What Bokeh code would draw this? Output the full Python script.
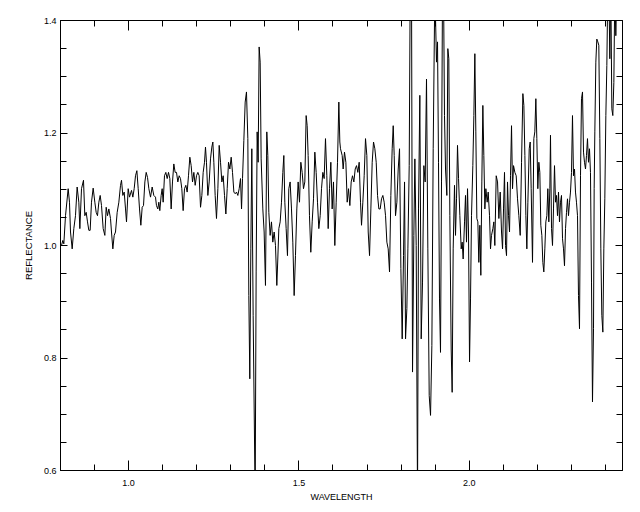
from bokeh.plotting import figure
from bokeh.models import Range1d, LinearAxis, FixedTicker, CustomJSTickFormatter
from bokeh.embed import file_html
from bokeh.resources import INLINE

# Spectrum (wavelength in microns, reflectance)
wl_1 = [0.8029, 0.8068, 0.8098, 0.8147, 0.8225, 0.8264, 0.8294, 0.8343, 0.8391, 0.8440,
        0.8489, 0.8538, 0.8568, 0.8617, 0.8675, 0.8714, 0.8754, 0.8793, 0.8832, 0.8871,
        0.8910, 0.8959, 0.9008, 0.9047, 0.9086, 0.9126, 0.9165, 0.9204, 0.9253, 0.9302,
        0.9341, 0.9380, 0.9419, 0.9468, 0.9497, 0.9537, 0.9576, 0.9615, 0.9664, 0.9713,
        0.9762, 0.9791, 0.9830, 0.9870, 0.9909, 0.9938, 0.9987, 1.0026, 1.0085, 1.0124,
        1.0163, 1.0202, 1.0242, 1.0281, 1.0320, 1.0359, 1.0398, 1.0437, 1.0477, 1.0516,
        1.0555, 1.0594, 1.0643]
refl_1 = [1.000, 1.009, 1.003, 1.053, 1.101, 1.077, 1.024, 0.994, 1.030, 1.053,
          1.104, 1.077, 1.030, 1.101, 1.116, 1.053, 1.059, 1.042, 1.027, 1.027,
          1.077, 1.102, 1.077, 1.059, 1.053, 1.077, 1.089, 1.071, 1.030, 1.018,
          1.068, 1.053, 1.065, 1.048, 1.024, 0.994, 1.018, 1.024, 1.059, 1.077,
          1.107, 1.116, 1.089, 1.095, 1.065, 1.042, 1.101, 1.086, 1.098, 1.086,
          1.101, 1.124, 1.133, 1.101, 1.065, 1.036, 1.068, 1.071, 1.113, 1.130,
          1.121, 1.101, 1.086]

wl_2 = [1.0691, 1.0740, 1.0789, 1.0818, 1.0857, 1.0887, 1.0916, 1.0955, 1.0985, 1.1014,
        1.1053, 1.1092, 1.1132, 1.1171, 1.1210, 1.1249, 1.1288, 1.1327, 1.1366, 1.1406,
        1.1445, 1.1484, 1.1523, 1.1562, 1.1601, 1.1641, 1.1680, 1.1719, 1.1758, 1.1797,
        1.1836, 1.1876, 1.1915, 1.1954, 1.1993, 1.2032, 1.2071, 1.2111, 1.2150, 1.2189,
        1.2228, 1.2257, 1.2286, 1.2326, 1.2365, 1.2404, 1.2443, 1.2473, 1.2502, 1.2541,
        1.2580, 1.2620, 1.2659, 1.2698, 1.2737, 1.2776, 1.2815, 1.2855, 1.2894, 1.2933,
        1.2972, 1.3011, 1.3050, 1.3090, 1.3129, 1.3168, 1.3207, 1.3246, 1.3285, 1.3315,
        1.3344, 1.3383, 1.3422]
refl_2 = [1.104, 1.089, 1.086, 1.071, 1.065, 1.077, 1.062, 1.089, 1.101, 1.077,
          1.124, 1.130, 1.119, 1.130, 1.119, 1.065, 1.113, 1.145, 1.130, 1.130,
          1.113, 1.124, 1.119, 1.101, 1.062, 1.101, 1.107, 1.095, 1.124, 1.157,
          1.142, 1.113, 1.130, 1.107, 1.124, 1.130, 1.124, 1.068, 1.089, 1.130,
          1.148, 1.175, 1.148, 1.089, 1.113, 1.154, 1.175, 1.184, 1.148, 1.089,
          1.048, 1.101, 1.178, 1.148, 1.113, 1.124, 1.089, 1.056, 1.101, 1.148,
          1.136, 1.157, 1.130, 1.095, 1.092, 1.095, 1.089, 1.101, 1.119, 1.065,
          1.119, 1.187, 1.255]

wl_3 = [1.3460, 1.3500, 1.3529, 1.3558, 1.3588, 1.3617, 1.3656, 1.3715, 1.3744, 1.3774,
        1.3803, 1.3832, 1.3862, 1.3891, 1.3940, 1.3979, 1.4018, 1.4057, 1.4087, 1.4116,
        1.4155, 1.4194, 1.4233, 1.4273, 1.4312, 1.4351, 1.4380, 1.4410, 1.4449, 1.4488,
        1.4527, 1.4557, 1.4586, 1.4625, 1.4664, 1.4703, 1.4742, 1.4782, 1.4821, 1.4860,
        1.4899, 1.4938, 1.4977, 1.5017, 1.5056, 1.5095, 1.5134, 1.5173, 1.5212, 1.5242,
        1.5271, 1.5310, 1.5349, 1.5389, 1.5428, 1.5467, 1.5506, 1.5545, 1.5584, 1.5624,
        1.5663, 1.5702, 1.5741, 1.5780, 1.5819, 1.5859, 1.5898, 1.5937, 1.5976, 1.6015,
        1.6054, 1.6094, 1.6133, 1.6172, 1.6201]
refl_3 = [1.273, 1.190, 0.911, 0.763, 0.994, 1.172, 0.876, 0.550, 0.953, 1.202,
          1.148, 1.353, 1.326, 1.154, 1.065, 1.024, 0.929, 1.202, 1.160, 1.059,
          1.018, 1.042, 1.006, 1.024, 1.000, 0.929, 0.976, 1.030, 1.042, 1.077,
          1.130, 1.160, 1.077, 1.030, 0.982, 1.101, 1.113, 1.065, 1.006, 0.911,
          0.982, 1.065, 1.113, 1.077, 1.148, 1.130, 1.101, 1.113, 1.231, 1.213,
          1.160, 1.053, 0.988, 1.042, 1.083, 1.166, 1.130, 1.077, 1.030, 1.053,
          1.101, 1.130, 1.119, 1.190, 1.124, 1.030, 1.101, 1.148, 1.065, 1.113,
          1.000, 1.077, 1.148, 1.255, 1.184]

wl_4 = [1.6221, 1.6270, 1.6299, 1.6338, 1.6378, 1.6417, 1.6456, 1.6495, 1.6534, 1.6573,
        1.6613, 1.6652, 1.6691, 1.6730, 1.6769, 1.6808, 1.6838, 1.6877, 1.6916, 1.6955,
        1.6994, 1.7034, 1.7073, 1.7112, 1.7151, 1.7190, 1.7229, 1.7269, 1.7308, 1.7347,
        1.7386, 1.7425, 1.7464, 1.7503, 1.7543, 1.7582, 1.7621, 1.7660, 1.7699, 1.7738,
        1.7768, 1.7797, 1.7836, 1.7876, 1.7915, 1.7954, 1.7993, 1.8032, 1.8071, 1.8101,
        1.8130, 1.8169, 1.8199, 1.8238, 1.8267, 1.8306, 1.8335, 1.8374, 1.8404, 1.8443,
        1.8482, 1.8511, 1.8550, 1.8590, 1.8629, 1.8668, 1.8707, 1.8746, 1.8785, 1.8825,
        1.8864, 1.8903, 1.8942, 1.8991]
refl_4 = [1.172, 1.160, 1.136, 1.166, 1.148, 1.077, 1.101, 1.071, 1.113, 1.124,
          1.113, 1.136, 1.142, 1.130, 1.148, 1.077, 1.036, 1.077, 1.124, 1.190,
          1.160, 1.024, 0.982, 1.065, 1.148, 1.184, 1.172, 1.148, 1.089, 1.065,
          1.065, 1.083, 1.089, 1.077, 1.053, 1.006, 0.994, 0.953, 1.089, 1.172,
          1.213, 1.160, 1.053, 1.077, 1.136, 1.172, 0.959, 0.834, 0.982, 1.113,
          0.834, 0.888, 0.994, 1.142, 1.460, 1.460, 0.775, 1.018, 1.154, 1.000,
          0.550, 1.065, 1.267, 0.834, 0.935, 1.142, 1.113, 1.296, 0.994, 0.733,
          0.698, 0.822, 1.172, 1.460]

wl_5 = [1.9039, 1.9069, 1.9098, 1.9127, 1.9157, 1.9186, 1.9216, 1.9245, 1.9274, 1.9304,
        1.9343, 1.9372, 1.9401, 1.9431, 1.9470, 1.9499, 1.9529, 1.9568, 1.9597, 1.9627,
        1.9656, 1.9686, 1.9725, 1.9764, 1.9793, 1.9822, 1.9862, 1.9891, 1.9920, 1.9950,
        1.9979, 2.0009, 2.0038, 2.0067, 2.0106, 2.0136, 2.0165, 2.0194, 2.0224, 2.0253,
        2.0282, 2.0312, 2.0341, 2.0370, 2.0400, 2.0429, 2.0459, 2.0488, 2.0527, 2.0557,
        2.0596, 2.0625, 2.0654, 2.0694, 2.0723, 2.0752, 2.0792, 2.0831, 2.0870, 2.0909,
        2.0948, 2.0978, 2.1007, 2.1036, 2.1066, 2.1095, 2.1124, 2.1154, 2.1183, 2.1212,
        2.1242, 2.1271, 2.1301, 2.1340, 2.1379, 2.1418, 2.1457, 2.1497, 2.1536, 2.1575,
        2.1604, 2.1634, 2.1663, 2.1692, 2.1722, 2.1761, 2.1790]
refl_5 = [1.326, 1.362, 1.148, 0.905, 0.810, 1.113, 1.460, 1.460, 1.231, 1.136,
          1.089, 1.350, 1.332, 1.053, 0.816, 0.739, 0.994, 1.107, 1.018, 1.083,
          1.178, 1.119, 1.053, 0.994, 1.006, 0.976, 1.042, 1.089, 1.006, 1.101,
          1.024, 0.793, 0.905, 1.053, 1.142, 1.231, 1.341, 1.202, 1.048, 1.042,
          0.970, 1.036, 0.947, 1.113, 1.249, 1.160, 1.065, 1.101, 1.077, 1.095,
          1.053, 0.994, 1.018, 1.030, 1.042, 1.000, 1.124, 1.113, 1.048, 1.095,
          1.024, 0.994, 1.065, 1.130, 1.000, 0.982, 1.113, 1.053, 1.024, 1.124,
          1.213, 1.101, 1.142, 1.130, 1.124, 1.083, 1.053, 1.018, 1.148, 1.270,
          1.249, 1.160, 1.053, 0.994, 1.077, 1.172, 1.184]

wl_6 = [2.1819, 2.1858, 2.1897, 2.1926, 2.1956, 2.1985, 2.2014, 2.2044, 2.2073, 2.2102,
        2.2132, 2.2161, 2.2190, 2.2220, 2.2249, 2.2279, 2.2308, 2.2337, 2.2367, 2.2386,
        2.2416, 2.2445, 2.2474, 2.2504, 2.2533, 2.2562, 2.2592, 2.2621, 2.2650, 2.2680,
        2.2709, 2.2739, 2.2768, 2.2797, 2.2827, 2.2856, 2.2885, 2.2915, 2.2944, 2.2973,
        2.3003, 2.3032, 2.3061, 2.3091, 2.3120, 2.3149, 2.3179, 2.3208, 2.3238, 2.3267,
        2.3296, 2.3326, 2.3355, 2.3384, 2.3414, 2.3443, 2.3472, 2.3502, 2.3531, 2.3560,
        2.3590, 2.3619, 2.3649, 2.3668, 2.3688, 2.3717, 2.3746, 2.3776, 2.3805, 2.3835,
        2.3864, 2.3893, 2.3923, 2.3952, 2.3981, 2.4011, 2.4040, 2.4069, 2.4099, 2.4128,
        2.4157, 2.4187, 2.4216, 2.4246, 2.4275, 2.4304, 2.4334, 2.4363]
refl_6 = [1.101, 0.970, 1.190, 1.202, 1.261, 1.190, 1.101, 1.148, 1.130, 1.036,
          1.018, 0.970, 0.953, 0.994, 1.042, 1.053, 1.101, 1.042, 1.101, 1.196,
          1.030, 1.000, 1.065, 1.142, 1.077, 1.089, 1.053, 1.095, 1.042, 1.077,
          1.089, 1.012, 0.994, 0.964, 1.030, 1.059, 1.083, 1.053, 1.077, 1.095,
          1.130, 1.231, 1.124, 1.136, 1.095, 1.077, 1.053, 0.911, 0.852, 1.124,
          1.261, 1.273, 1.166, 1.148, 1.136, 1.160, 1.190, 1.148, 1.172, 1.130,
          0.935, 0.722, 0.852, 1.101, 1.202, 1.326, 1.367, 1.362, 1.356, 1.190,
          0.994, 0.876, 0.846, 0.994, 1.083, 1.231, 1.320, 1.460, 1.460, 1.332,
          1.460, 1.243, 1.231, 1.290, 1.460, 1.373, 1.460, 1.460]

wavelength = wl_1 + wl_2 + wl_3 + wl_4 + wl_5 + wl_6
reflectance = refl_1 + refl_2 + refl_3 + refl_4 + refl_5 + refl_6

x_major = [1.0, 1.5, 2.0]
x_minor = [0.8, 0.9, 1.1, 1.2, 1.3, 1.4, 1.6, 1.7, 1.8, 1.9, 2.1, 2.2, 2.3, 2.4]
y_major = [0.6, 0.8, 1.0, 1.2, 1.4]
y_minor = [0.65, 0.7, 0.75, 0.85, 0.9, 0.95, 1.05, 1.1, 1.15, 1.25, 1.3, 1.35]

x_min, x_max = 0.8, 2.45
y_min, y_max = 0.6, 1.4

p = figure(width=636, height=508, output_backend="svg", toolbar_location=None,
           x_range=Range1d(x_min, x_max), y_range=Range1d(y_min, y_max),
           min_border_left=60, min_border_right=14, min_border_top=20, min_border_bottom=38)
p.background_fill_color = "white"
p.border_fill_color = "white"
p.outline_line_color = "black"
p.outline_line_width = 1
p.xgrid.visible = False
p.ygrid.visible = False

p.line(wavelength, reflectance, line_color="black", line_width=1)

FONT = "Liberation Sans"

def style_axis(ax, ticker, major_in, minor_in, labels=True):
    ax.ticker = ticker
    ax.major_tick_in = major_in
    ax.major_tick_out = 0
    ax.minor_tick_in = minor_in
    ax.minor_tick_out = 0
    ax.axis_line_color = "black"
    ax.major_tick_line_color = "black"
    ax.minor_tick_line_color = "black"
    if labels:
        ax.major_label_text_font = FONT
        ax.major_label_text_font_size = "9px"
        ax.major_label_text_color = "black"
        ax.axis_label_text_font = FONT
        ax.axis_label_text_font_size = "9px"
        ax.axis_label_text_font_style = "normal"
        ax.axis_label_text_color = "black"
    else:
        ax.formatter = CustomJSTickFormatter(code="return ''")
        ax.major_label_standoff = 0

xa = p.xaxis[0]
style_axis(xa, FixedTicker(ticks=x_major, minor_ticks=x_minor), 10, 6)
xa.axis_label = "WAVELENGTH"
xa.major_label_standoff = 9
xa.axis_label_standoff = 3
xa.major_label_overrides = {1.0: "1.0", 1.5: "1.5", 2.0: "2.0"}

ya = p.yaxis[0]
style_axis(ya, FixedTicker(ticks=y_major, minor_ticks=y_minor), 7, 6)
ya.axis_label = "REFLECTANCE"
ya.axis_label_text_font_size = "9.5px"
ya.major_label_standoff = 4
ya.axis_label_standoff = 7
ya.major_label_overrides = {0.6: "0.6", 0.8: "0.8", 1.0: "1.0", 1.2: "1.2", 1.4: "1.4"}

top = LinearAxis()
style_axis(top, FixedTicker(ticks=x_major, minor_ticks=x_minor), 10, 6, labels=False)
p.add_layout(top, "above")

right = LinearAxis()
style_axis(right, FixedTicker(ticks=y_major, minor_ticks=y_minor), 7, 6, labels=False)
p.add_layout(right, "right")

open("out.html", "w").write(file_html(p, INLINE))
